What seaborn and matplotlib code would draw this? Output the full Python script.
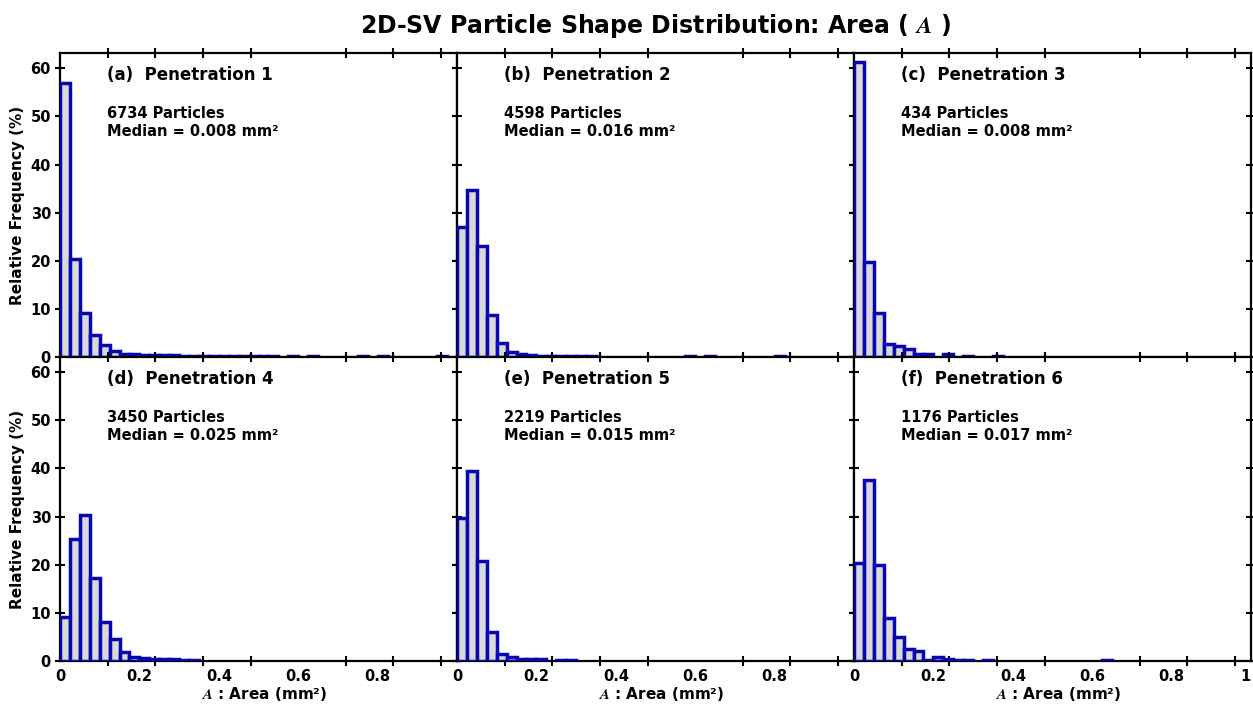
import numpy as np
import pandas as pd
import matplotlib
matplotlib.use("Agg")
import matplotlib.pyplot as plt
import seaborn as sns
from matplotlib.ticker import FixedLocator, MultipleLocator

# ---------------- data (relative frequency %, bins of 0.025 mm^2 from 0 to 1) ----------------
bin_width = 0.025
n_bins = 40
panel_letters = ["a", "b", "c", "d", "e", "f"]
penetrations = [1, 2, 3, 4, 5, 6]
particle_counts = [6734, 4598, 434, 3450, 2219, 1176]
medians = ["0.008", "0.016", "0.008", "0.025", "0.015", "0.017"]

freq_p1 = [56.9, 20.4, 9.2, 4.5, 2.6, 1.3, 0.75, 0.6, 0.5, 0.45,
           0.4, 0.35, 0.3, 0.3, 0.25, 0.25, 0.2, 0.2, 0.2, 0.2,
           0.2, 0.2, 0, 0.2, 0, 0.2, 0, 0, 0, 0,
           0.2, 0, 0.2, 0, 0, 0, 0, 0, 0.2, 0]
freq_p2 = [27.0, 34.8, 23.1, 8.8, 3.0, 1.1, 0.6, 0.4, 0.3, 0.25,
           0.2, 0.2, 0.2, 0.2, 0, 0, 0, 0, 0, 0,
           0, 0, 0, 0.2, 0, 0.2, 0, 0, 0, 0,
           0, 0, 0.2, 0, 0, 0, 0, 0, 0, 0]
freq_p3 = [61.3, 19.8, 9.2, 2.8, 2.3, 1.6, 0.69, 0.69, 0, 0.69,
           0, 0.23, 0, 0, 0.23, 0, 0, 0, 0, 0,
           0, 0, 0, 0, 0, 0, 0, 0, 0, 0,
           0, 0, 0, 0, 0, 0, 0, 0, 0, 0]
freq_p4 = [9.2, 25.3, 30.3, 17.3, 8.0, 4.5, 1.8, 0.8, 0.6, 0.5,
           0.4, 0.35, 0.25, 0.2, 0, 0, 0, 0, 0, 0,
           0, 0, 0, 0, 0, 0, 0, 0, 0, 0,
           0, 0, 0, 0, 0, 0, 0, 0, 0, 0]
freq_p5 = [29.6, 39.5, 20.8, 6.1, 1.5, 0.8, 0.4, 0.4, 0.35, 0,
           0.2, 0.2, 0, 0, 0, 0, 0, 0, 0, 0,
           0, 0, 0, 0, 0, 0, 0, 0, 0, 0,
           0, 0, 0, 0, 0, 0, 0, 0, 0, 0]
freq_p6 = [20.4, 37.6, 19.9, 9.0, 4.9, 2.5, 2.0, 0.2, 0.75, 0.4,
           0.25, 0.25, 0, 0.2, 0, 0, 0, 0, 0, 0,
           0, 0, 0, 0, 0, 0.2, 0, 0, 0, 0,
           0, 0, 0, 0, 0, 0, 0, 0, 0, 0]
all_freqs = [freq_p1, freq_p2, freq_p3, freq_p4, freq_p5, freq_p6]

x_tick_values = [0, 0.2, 0.4, 0.6, 0.8, 1.0]
x_tick_labels = ["0", "0.2", "0.4", "0.6", "0.8", "1"]
y_tick_values = [0, 10, 20, 30, 40, 50, 60]

# ---------------- style ----------------
sns.set_theme(style="white")
plt.rcParams["font.family"] = ["DejaVu Sans"]
plt.rcParams["font.weight"] = "bold"
plt.rcParams["mathtext.fontset"] = "stix"

FILL = "#d9d9d9"
EDGE = "#0606b4"

fig, axes = plt.subplots(2, 3, figsize=(12.53, 7.05), dpi=100)
fig.subplots_adjust(left=0.0479, right=0.9984, bottom=0.0624, top=0.9244,
                    wspace=0, hspace=0)

centers = [bin_width * (k + 0.5) for k in range(n_bins)]

for i, ax in enumerate(axes.flat):
    row, col = divmod(i, 3)
    df = pd.DataFrame({"area": centers, "freq": all_freqs[i]})
    sns.histplot(data=df, x="area", weights="freq", binwidth=bin_width,
                 binrange=(0, bin_width * n_bins), ax=ax,
                 stat="count", color=FILL, edgecolor=EDGE, linewidth=2.5,
                 alpha=1)
    for p in ax.patches:
        if p.get_height() <= 0:
            p.set_visible(False)
        p.set_zorder(3)

    ax.set_xlim(0, 1)
    ax.set_ylim(0, 63.1)

    # ticks
    ax.yaxis.set_major_locator(FixedLocator(y_tick_values))
    if col == 2:
        ax.xaxis.set_major_locator(FixedLocator(x_tick_values))
        labels = x_tick_labels
    else:
        ax.xaxis.set_major_locator(FixedLocator(x_tick_values[:-1]))
        labels = x_tick_labels[:-1]
    ax.xaxis.set_minor_locator(MultipleLocator(0.12))
    ax.set_xticklabels(labels if row == 1 else [])
    if col == 0:
        ax.set_yticklabels([str(v) for v in y_tick_values])
    else:
        ax.set_yticklabels([])

    ax.tick_params(axis="x", which="major", length=0, pad=6,
                   labelsize=10.5, labelcolor="black")
    ax.tick_params(axis="x", which="minor", direction="inout", length=7,
                   width=1.5, top=True, bottom=True, color="black")
    ax.tick_params(axis="y", which="major", direction="inout", length=7,
                   width=1.5, left=True, right=True, pad=3,
                   labelsize=10.5, color="black", labelcolor="black")
    if row == 1 and col == 2:
        # keep the last label ("1") inside the figure edge
        ax.get_xticklabels()[-1].set_horizontalalignment("right")

    for s in ax.spines.values():
        s.set_visible(True)
        s.set_color("black")
        s.set_linewidth(1.6)

    # labels
    if row == 1:
        ax.set_xlabel(r"$\mathit{A}$ : Area (mm²)", fontsize=11,
                      fontweight="bold", color="black")
        ax.xaxis.set_label_coords(0.515, -0.08)
    else:
        ax.set_xlabel("")
    if col == 0:
        ax.set_ylabel("Relative Frequency (%)", fontsize=11,
                      fontweight="bold", color="black")
        ax.yaxis.set_label_coords(-0.088, 0.5)
    else:
        ax.set_ylabel("")

    ax.text(0.118, 0.927, f"({panel_letters[i]})  Penetration {penetrations[i]}",
            transform=ax.transAxes, fontsize=12, fontweight="bold",
            va="center", ha="left", color="black")
    ax.text(0.118, 0.772,
            f"{particle_counts[i]} Particles\nMedian = {medians[i]} mm²",
            transform=ax.transAxes, fontsize=10.5, fontweight="bold",
            va="center", ha="left", linespacing=1.3, color="black")

fig.suptitle(r"2D-SV Particle Shape Distribution: Area ( $\mathit{A}$ )",
             fontsize=17, fontweight="bold", x=0.5236, y=0.963, va="center",
             color="black")

fig.savefig("out.png", dpi=100)
